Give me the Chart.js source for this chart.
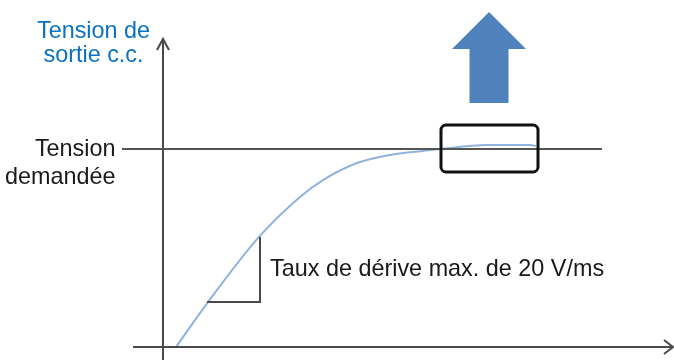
<!DOCTYPE html>
<html>
<head>
<meta charset="utf-8">
<script src="https://cdn.jsdelivr.net/npm/chart.js@4/dist/chart.umd.min.js"></script>
<style>
  html, body { margin: 0; padding: 0; background: #fff; }
  #wrap { width: 674px; height: 363px; }
</style>
</head>
<body>
<div id="wrap"><canvas id="myChart" width="674" height="363"></canvas></div>
<script>
// Time (arbitrary ms units) and output voltage (% of demanded voltage).
const timeValues = [1.3, 4.5, 9.6, 13.7, 16.0, 19.4, 22.7, 26.0, 27.7, 32.4, 36.7, 37.3];
const voltageValues = [0, 22.7, 55.6, 75.8, 84.3, 92.9, 97.0, 99.0, 100, 102.0, 102.0, 101.5];
const demandedVoltage = 100;

// Slope triangle (max slew rate) in data units.
const slopeStart = [4.4, 22.7];
const slopeEnd = [9.7, 55.6];

// Labels.
const yAxisTitle = ['Tension de', 'sortie c.c.'];
const demandLabel = ['Tension', 'demandée'];
const slopeLabel = 'Taux de dérive max. de 20 V/ms';

const FONT = '23.4px "Liberation Sans", Arial, sans-serif';

const decorations = {
    id: 'decorations',
    afterDatasetsDraw(chart) {
        const ctx = chart.ctx;
        const xs = chart.scales.x;
        const ys = chart.scales.y;
        const px = v => xs.getPixelForValue(v);
        const py = v => ys.getPixelForValue(v);

        ctx.save();
        ctx.lineCap = 'butt';

        // Axes
        ctx.strokeStyle = '#4a4a4a';
        ctx.lineWidth = 2;
        ctx.beginPath();
        ctx.moveTo(px(-3), py(0));
        ctx.lineTo(px(51.0), py(0));
        ctx.moveTo(px(0), py(-6.6));
        ctx.lineTo(px(0), py(155.6));
        ctx.stroke();

        // Arrow heads (open chevrons)
        ctx.lineWidth = 2;
        ctx.beginPath();
        ctx.moveTo(px(0) - 6, py(155.6) + 11);
        ctx.lineTo(px(0), py(155.6));
        ctx.lineTo(px(0) + 6, py(155.6) + 11);
        ctx.moveTo(px(51.0) - 9, py(0) - 7);
        ctx.lineTo(px(51.0), py(0));
        ctx.lineTo(px(51.0) - 9, py(0) + 7);
        ctx.stroke();

        // Demanded voltage line
        ctx.strokeStyle = '#555';
        ctx.lineWidth = 2;
        ctx.beginPath();
        ctx.moveTo(px(-4.1), py(demandedVoltage));
        ctx.lineTo(px(43.9), py(demandedVoltage));
        ctx.stroke();

        // Slope triangle
        ctx.strokeStyle = '#4a4a4a';
        ctx.lineWidth = 2;
        ctx.beginPath();
        ctx.moveTo(px(slopeStart[0]), py(slopeStart[1]));
        ctx.lineTo(px(slopeEnd[0]), py(slopeStart[1]));
        ctx.lineTo(px(slopeEnd[0]), py(slopeEnd[1]));
        ctx.stroke();

        // Highlight box
        const bx0 = px(27.8), bx1 = px(37.5), by0 = py(112.1), by1 = py(88.4);
        ctx.strokeStyle = '#111';
        ctx.lineWidth = 3;
        ctx.beginPath();
        ctx.roundRect(bx0, by0, bx1 - bx0, by1 - by0, 5);
        ctx.stroke();

        // Blue up arrow
        const ax = px(32.6);
        ctx.fillStyle = '#4f81bd';
        ctx.beginPath();
        ctx.moveTo(ax, py(169.2));
        ctx.lineTo(ax + 37, py(150.5));
        ctx.lineTo(ax + 19.5, py(150.5));
        ctx.lineTo(ax + 19.5, py(123.2));
        ctx.lineTo(ax - 19.5, py(123.2));
        ctx.lineTo(ax - 19.5, py(150.5));
        ctx.lineTo(ax - 37, py(150.5));
        ctx.closePath();
        ctx.fill();

        // Texts
        ctx.font = FONT;
        ctx.textBaseline = 'alphabetic';

        ctx.fillStyle = '#0a72c2';
        ctx.textAlign = 'center';
        ctx.fillText(yAxisTitle[0], px(-6.95), py(156.1));
        ctx.fillText(yAxisTitle[1], px(-6.95), py(144.0));

        ctx.fillStyle = '#1a1a1a';
        ctx.textAlign = 'right';
        ctx.fillText(demandLabel[0], px(-4.75), py(96.5));
        ctx.fillText(demandLabel[1], px(-4.75), py(82.3));

        ctx.textAlign = 'left';
        ctx.fillText(slopeLabel, px(10.7), py(35.9));

        ctx.restore();
    }
};

document.addEventListener('DOMContentLoaded', () => {
    const ctx = document.getElementById('myChart').getContext('2d');
    new Chart(ctx, {
        type: 'scatter',
        data: {
            datasets: [{
                label: 'Tension de sortie',
                data: timeValues.map((t, i) => ({ x: t, y: voltageValues[i] })),
                showLine: true,
                borderColor: '#8fb3dd',
                borderWidth: 2,
                pointRadius: 0,
                cubicInterpolationMode: 'monotone',
                fill: false
            }]
        },
        options: {
            responsive: false,
            animation: false,
            layout: { padding: 0 },
            plugins: {
                legend: { display: false },
                tooltip: { enabled: false }
            },
            scales: {
                x: { type: 'linear', display: false, min: -16.3, max: 51.1 },
                y: { type: 'linear', display: false, min: -8.08, max: 175.25 }
            }
        },
        plugins: [decorations]
    });
});
</script>
</body>
</html>
